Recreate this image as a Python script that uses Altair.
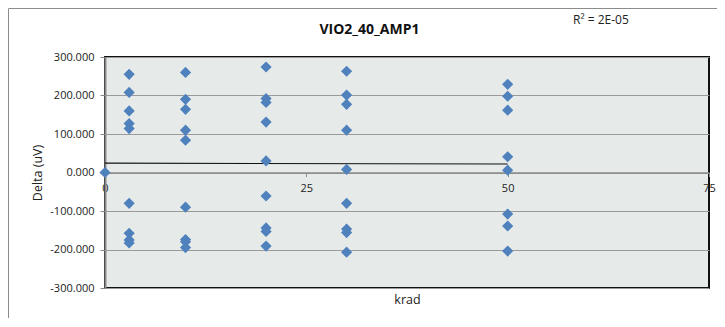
import altair as alt
import pandas as pd

# data
krad = [0,
        3, 3, 3, 3, 3, 3, 3, 3, 3,
        10, 10, 10, 10, 10, 10, 10, 10, 10,
        20, 20, 20, 20, 20, 20, 20, 20, 20,
        30, 30, 30, 30, 30, 30, 30, 30, 30,
        50, 50, 50, 50, 50, 50, 50, 50]
delta = [0,
         255, 208, 160, 127, 114, -80, -158, -175, -183,
         260, 190, 164, 110, 84, -90, -174, -180, -195,
         274, 192, 182, 131, 30, -61, -144, -153, -191,
         263, 201, 177, 110, 8, -80, -147, -156, -207,
         229, 198, 162, 41, 6, -108, -139, -204]
x_ticks = [0, 25, 50, 75]
y_ticks = [-300, -200, -100, 0, 100, 200, 300]
title_text = "VIO2_40_AMP1"
r2_text = "R² = 2E-05"

df = pd.DataFrame({"krad": krad, "delta": delta})

FONT = "Open Sans"
W, H = 604, 231

xscale = alt.Scale(domain=[0, 75], nice=False, zero=False)
yscale = alt.Scale(domain=[-300, 300], nice=False)

x_axis = alt.Axis(values=x_ticks, title="krad", offset=-115.5,
                  grid=False, domainColor="#8a8a8a", domainWidth=1.5,
                  tickColor="#8a8a8a", tickSize=4, labelPadding=6,
                  labelFont=FONT, labelFontSize=11, labelColor="#222",
                  labelFlush=False, labelBound=False, labelOverlap=False,
                  titleFont=FONT, titleFontSize=12.5, titleFontWeight="normal",
                  titleColor="#222", titleY=121, titleBaseline="top")
y_axis = alt.Axis(values=y_ticks, title="Delta (uV)",
                  labelExpr="datum.value < 0 ? '-' + format(-datum.value, '.3f') : format(datum.value, '.3f')",
                  labelOverlap=False,
                  grid=True, gridColor="#9a9a9a", gridWidth=1.2,
                  domainColor="#8a8a8a", domainWidth=2,
                  tickColor="#8a8a8a", tickSize=5, labelPadding=6,
                  labelFont=FONT, labelFontSize=11, labelColor="#222",
                  titleFont=FONT, titleFontSize=12.5, titleFontWeight="normal",
                  titleColor="#222", titleX=-68, titleBaseline="middle")

base = alt.Chart(df)

points = base.mark_point(shape="diamond", filled=True, size=125, opacity=1,
                         color="#4F81BD").encode(
    x=alt.X("krad:Q", scale=xscale, axis=x_axis),
    y=alt.Y("delta:Q", scale=yscale, axis=y_axis),
)

trend = base.transform_regression("krad", "delta", extent=[0, 50]).mark_line(
    color="#111", strokeWidth=1.1).encode(
    x=alt.X("krad:Q", scale=xscale, axis=x_axis),
    y=alt.Y("delta:Q", scale=yscale, axis=y_axis))

texts = pd.DataFrame({"t": [r2_text]})
r2 = alt.Chart(texts).mark_text(
    align="left", baseline="alphabetic", font=FONT, fontSize=12, color="#222").encode(
    x=alt.value(468), y=alt.value(-33), text="t:N")

title = alt.Chart(pd.DataFrame({"t": [title_text]})).mark_text(
    align="center", baseline="alphabetic", font=FONT, fontSize=14,
    fontWeight="bold", color="#111").encode(
    x=alt.value(264.5), y=alt.value(-23), text="t:N")

frame = alt.Chart(pd.DataFrame({"a": [1]})).mark_rect(
    fillOpacity=0, stroke="#8c8c8c", strokeWidth=1).encode(
    x=alt.value(-96.5), x2=alt.value(800), y=alt.value(-48.5), y2=alt.value(400))

chart = alt.layer(frame, trend, points, r2, title).properties(
    width=W, height=H,
    autosize=alt.AutoSizeParams(type="none"),
    padding={"left": 97, "top": 49, "right": 8, "bottom": 30},
).configure(
    background="white",
    view=alt.ViewConfig(fill="#E6EBEA", stroke="#111", strokeWidth=2),
)

chart.save("out.html", embed_options={"renderer": "svg", "actions": False})
